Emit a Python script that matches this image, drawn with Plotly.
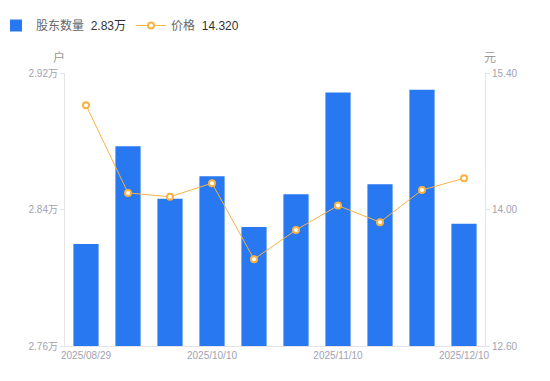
import plotly.graph_objects as go

dates = ["2025/08/29", "2025/09/10", "2025/09/30", "2025/10/10", "2025/10/20",
         "2025/10/31", "2025/11/10", "2025/11/20", "2025/11/28", "2025/12/10"]
holders_wan = [2.8198, 2.8770, 2.8463, 2.8595, 2.8297, 2.8489, 2.9085, 2.8548, 2.9102, 2.8317]
price = [15.07, 14.17, 14.13, 14.27, 13.49, 13.79, 14.04, 13.87, 14.20, 14.32]

left_ticks = [2.76, 2.84, 2.92]
left_ticktext = ["2.76万", "2.84万", "2.92万"]
right_ticks = [12.60, 14.00, 15.40]
right_ticktext = ["12.60", "14.00", "15.40"]
x_tick_dates = [dates[0], dates[3], dates[6], dates[9]]

FONT = "Liberation Sans, Arial, Noto Sans CJK SC, sans-serif"
BLUE = "#2878F2"
ORANGE = "#F8B344"
TICK = "#A2A2B0"
AXIS = "#E4E4E8"

fig = go.Figure()
fig.add_trace(go.Bar(
    x=dates, y=holders_wan, yaxis="y",
    marker=dict(color=BLUE, line=dict(width=0)),
    name="股东数量  <span style='color:#333'>%.2f万</span>" % holders_wan[-1],
))
fig.add_trace(go.Scatter(
    x=dates, y=price, yaxis="y2", mode="lines+markers",
    line=dict(color=ORANGE, width=1),
    marker=dict(symbol="circle", size=6, color="white", line=dict(color=ORANGE, width=2)),
    name="价格  <span style='color:#333'>%.3f</span>" % price[-1],
))

fig.update_layout(
    width=550, height=381,
    margin=dict(l=65, r=65, t=73, b=35, autoexpand=False),
    paper_bgcolor="white", plot_bgcolor="white",
    font=dict(family=FONT, size=11, color=TICK),
    bargap=0.4,
    showlegend=True,
    legend=dict(orientation="h", x=(-4 - 65) / 420, y=1 + (73 - 11) / 273, xref="paper", yref="paper",
                xanchor="left", yanchor="top", itemwidth=30,
                font=dict(family=FONT, size=12, color="#666"),
                bgcolor="rgba(0,0,0,0)"),
    xaxis=dict(type="category", tickmode="array", tickvals=x_tick_dates, ticktext=x_tick_dates,
               showgrid=False, showline=True, linecolor=AXIS, linewidth=1,
               ticks="", tickfont=dict(size=10, color=TICK), zeroline=False,
               range=[-0.5, 9.5]),
    yaxis=dict(range=[2.76, 2.92], tickmode="array", tickvals=left_ticks, ticktext=left_ticktext,
               showgrid=False, showline=True, linecolor=AXIS, linewidth=1,
               ticks="outside", ticklen=4, tickcolor=AXIS, zeroline=False,
               tickfont=dict(size=10, color=TICK)),
    yaxis2=dict(range=[12.60, 15.40], overlaying="y", side="right",
                tickmode="array", tickvals=right_ticks, ticktext=right_ticktext,
                showgrid=False, showline=True, linecolor=AXIS, linewidth=1,
                ticks="outside", ticklen=4, tickcolor=AXIS, zeroline=False,
                tickfont=dict(size=10, color=TICK)),
    annotations=[
        dict(text="户", xref="paper", yref="paper", x=-0.015, y=1.0, yshift=6,
             xanchor="center", yanchor="bottom", showarrow=False,
             font=dict(size=12, color="#999")),
        dict(text="元", xref="paper", yref="paper", x=1.012, y=1.0, yshift=6,
             xanchor="center", yanchor="bottom", showarrow=False,
             font=dict(size=12, color="#999")),
    ],
)

fig.write_html("out.html", config={"displayModeBar": False},
               post_script="document.body.style.margin='0';")
